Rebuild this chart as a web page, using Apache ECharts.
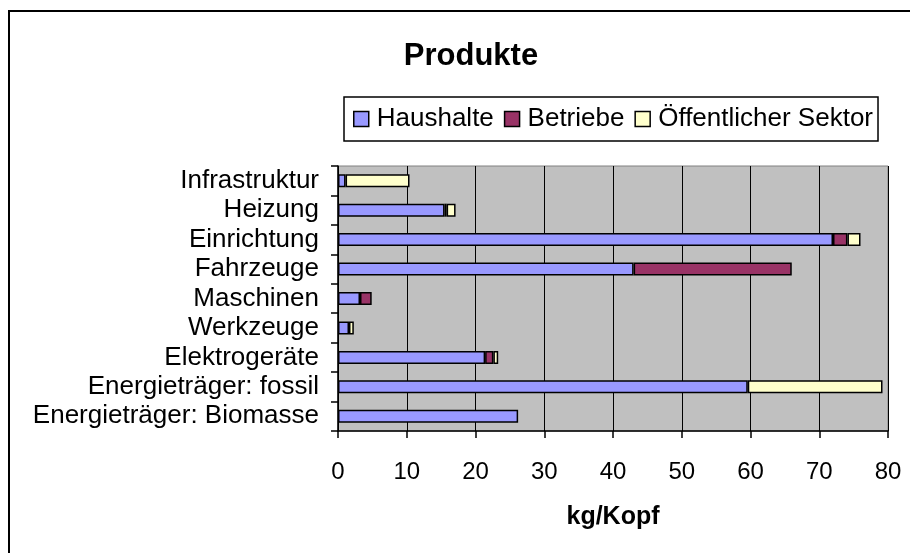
<!DOCTYPE html>
<html>
<head>
<meta charset="utf-8">
<script src="https://cdn.jsdelivr.net/npm/echarts@6/dist/echarts.min.js"></script>
<style>
  html, body { margin:0; padding:0; background:#fff; }
  #chart { width:910px; height:553px; }
</style>
</head>
<body>
<div id="chart"></div>
<script>
// categories, bottom to top (ECharts puts first category at the bottom)
var categories = ["Energieträger: Biomasse", "Energieträger: fossil", "Elektrogeräte", "Werkzeuge",
                  "Maschinen", "Fahrzeuge", "Einrichtung", "Heizung", "Infrastruktur"];
var seriesNames = ["Haushalte", "Betriebe", "Öffentlicher Sektor"];
var haushalte   = [26.2, 59.6, 21.4, 1.6, 3.2, 43.0, 72.0, 15.5, 1.1];
var betriebe    = [null, null, 1.2, null, 1.7, 23.0, 2.1, 0.3, null];
var oeffentlich = [null, 19.6, 0.7, 0.7, null, null, 1.9, 1.3, 9.3];
var xTicks = [0, 10, 20, 30, 40, 50, 60, 70, 80];

var font = "'Liberation Sans', Arial, sans-serif";
var colors = ["#9999FF", "#993366", "#FFFFCC"];

var chart = echarts.init(document.getElementById("chart"));

function mkSeries(i, data) {
	return {
		name: seriesNames[i],
		type: "bar",
		stack: "total",
		barWidth: 13,
		data: data,
		itemStyle: {
			color: colors[i],
			borderColor: "#000000",
			borderWidth: 1.5
		},
		emphasis: { disabled: true }
	};
}

var option = {
	animation: false,
	backgroundColor: "#ffffff",
	textStyle: { fontFamily: font },
	title: {
		text: "Produkte",
		left: 466,
		top: 36,
		textAlign: "center",
		textStyle: { fontFamily: font, fontSize: 31, fontWeight: "bold", color: "#000000" }
	},
	legend: {
		data: seriesNames,
		left: 344,
		top: 97,
		orient: "horizontal",
		padding: [9, 5, 9, 9],
		itemGap: 10,
		itemWidth: 15,
		itemHeight: 15,
		icon: "rect",
		borderColor: "#000000",
		borderWidth: 1.5,
		itemStyle: { borderColor: "#000000", borderWidth: 1.5 },
		textStyle: { fontFamily: font, fontSize: 26, color: "#000000", lineHeight: 26, padding: [0, 0, 0, 3] }
	},
	grid: {
		show: true,
		left: 338,
		right: 22,
		top: 166,
		bottom: 122,
		backgroundColor: "#C0C0C0",
		borderColor: "#808080",
		borderWidth: 1,
		containLabel: false
	},
	xAxis: {
		type: "value",
		min: xTicks[0],
		max: xTicks[xTicks.length - 1],
		interval: xTicks[1] - xTicks[0],
		name: "kg/Kopf",
		nameLocation: "middle",
		nameGap: 74,
		nameTextStyle: { fontFamily: font, fontSize: 25, fontWeight: "bold", color: "#000000" },
		axisLine: { show: true, lineStyle: { color: "#000000", width: 1.5 } },
		axisTick: { show: true, length: 7, lineStyle: { color: "#000000", width: 1.5 } },
		axisLabel: { show: true, fontFamily: font, fontSize: 24, color: "#000000", margin: 29 },
		splitLine: { show: true, lineStyle: { color: "#000000", width: 1 } }
	},
	yAxis: {
		type: "category",
		data: categories,
		axisLine: { show: true, lineStyle: { color: "#000000", width: 1.5 } },
		axisTick: { show: true, length: 7, lineStyle: { color: "#000000", width: 1.5 } },
		axisLabel: { show: true, interval: 0, fontFamily: font, fontSize: 26, color: "#000000", margin: 19 },
		splitLine: { show: false }
	},
	tooltip: { show: false },
	graphic: [{
		type: "rect",
		shape: { x: 9, y: 11, width: 1000, height: 1000 },
		style: { fill: null, stroke: "#000000", lineWidth: 2 },
		silent: true,
		z: 100
	}],
	series: [
		mkSeries(0, haushalte),
		mkSeries(1, betriebe),
		mkSeries(2, oeffentlich)
	]
};

chart.setOption(option);
</script>
</body>
</html>
